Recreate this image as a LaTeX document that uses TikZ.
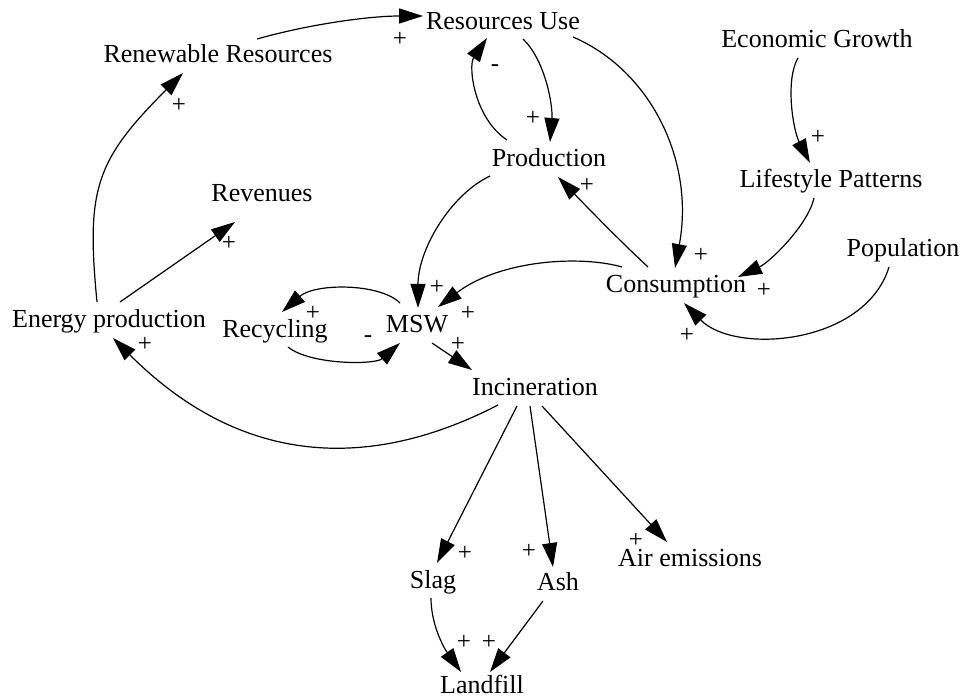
\documentclass[tikz,border=0pt]{standalone}
\usepackage{fontspec}
\setmainfont{Liberation Serif}
\usetikzlibrary{arrows.meta}
\begin{document}
\begin{tikzpicture}[x=1pt,y=-1pt,
  var/.style={anchor=base, inner sep=0pt, font=\fontsize{26}{31}\selectfont},
  sgn/.style={inner sep=0pt, font=\fontsize{25}{30}\selectfont},
  link/.style={line width=1.2pt, -{Triangle[length=24pt,width=15pt]}}]
\useasboundingbox (0,0) rectangle (960,700);

% variables (placed by baseline)
\node[var] (use)    at (503,30)  {Resources Use};
\node[var] (ren)    at (218,63)  {Renewable Resources};
\node[var] (eco)    at (817,48)  {Economic Growth};
\node[var] (prod)   at (549,167) {Production};
\node[var] (life)   at (831,188) {Lifestyle Patterns};
\node[var] (rev)    at (262,202) {Revenues};
\node[var] (pop)    at (903,257) {Population};
\node[var] (cons)   at (676,293) {Consumption};
\node[var] (energy) at (109,327) {Energy production};
\node[var] (recyc)  at (275,337) {Recycling};
\node[var] (msw)    at (417,332) {MSW};
\node[var] (inc)    at (535,395) {Incineration};
\node[var] (slag)   at (433,588) {Slag};
\node[var] (ash)    at (558,590) {Ash};
\node[var] (air)    at (690,566) {Air emissions};
\node[var] (land)   at (482,693) {Landfill};

% causal links
\draw[link] ([shift={(39,-24)}]ren.base) .. controls (310,24) and (370,16) .. ([shift={(-80,-14)}]use.base);
\draw[link] ([shift={(20,9)}]use.base) .. controls (545,60) and (553,105) .. ([shift={(1,-25)}]prod.base);
\draw[link] ([shift={(-42,-27)}]prod.base) .. controls (474,118) and (468,66) .. ([shift={(-16,8)}]use.base);
\draw[link] ([shift={(70,7)}]use.base) .. controls (650,70) and (695,160) .. ([shift={(-1,-25)}]cons.base);
\draw[link] ([shift={(-19,10)}]eco.base) .. controls (785,80) and (793,130) .. ([shift={(-21,-25)}]life.base);
\draw[link] ([shift={(-17,10)}]life.base) .. controls (808,225) and (770,262) .. ([shift={(62,-16)}]cons.base);
\draw[link] ([shift={(-14,10)}]pop.base) .. controls (865,345) and (735,355) .. ([shift={(8,10)}]cons.base);
\draw[link] ([shift={(-28,-26)}]cons.base) .. controls (620,241) and (586,206) .. ([shift={(9,10)}]prod.base);
\draw[link] ([shift={(-54,-26)}]cons.base) .. controls (580,255) and (500,260) .. ([shift={(21,-25)}]msw.base);
\draw[link] ([shift={(-59,9)}]prod.base) .. controls (450,195) and (418,250) .. ([shift={(1,-24)}]msw.base);
\draw[link] ([shift={(-17,-29)}]msw.base) .. controls (380,283) and (315,283) .. ([shift={(7,-25)}]recyc.base);
\draw[link] ([shift={(13,10)}]recyc.base) .. controls (310,365) and (375,365) .. ([shift={(-17,11)}]msw.base);
\draw[link] ([shift={(15,11)}]msw.base) -- ([shift={(-63,-25)}]inc.base);
\draw[link] ([shift={(-37,10)}]inc.base) .. controls (411,450) and (267,492) .. ([shift={(4,11)}]energy.base);
\draw[link] ([shift={(11,-25)}]energy.base) -- ([shift={(-27,20)}]rev.base);
\draw[link] ([shift={(-12,-25)}]energy.base) .. controls (86,189) and (95.5,160.5) .. ([shift={(-35,10)}]ren.base);
\draw[link] ([shift={(-18,11)}]inc.base) -- ([shift={(4,-25)}]slag.base);
\draw[link] ([shift={(-5,11)}]inc.base) -- ([shift={(-5,-23)}]ash.base);
\draw[link] ([shift={(7,11)}]inc.base) -- ([shift={(-23,-24)}]air.base);
\draw[link] ([shift={(-2,10)}]slag.base) .. controls (431,625) and (444,648) .. ([shift={(-21,-21)}]land.base);
\draw[link] ([shift={(-15,11)}]ash.base) -- ([shift={(8,-21)}]land.base);

% link polarities
\node[sgn] (s1)  at (400,39)  {+};
\node[sgn] (s2)  at (533,118) {+};
\node[sgn] (s3)  at (495,68)  {-};
\node[sgn] (s4)  at (701,255) {+};
\node[sgn] (s5)  at (818,137) {+};
\node[sgn] (s6)  at (764,290) {+};
\node[sgn] (s7)  at (687,335) {+};
\node[sgn] (s8)  at (587,185) {+};
\node[sgn] (s9)  at (468,313) {+};
\node[sgn] (s10) at (437,287) {+};
\node[sgn] (s11) at (313,313) {+};
\node[sgn] (s12) at (368,339) {-};
\node[sgn] (s13) at (458,344) {+};
\node[sgn] (s14) at (145,344) {+};
\node[sgn] (s15) at (229,243) {+};
\node[sgn] (s16) at (179,105) {+};
\node[sgn] (s17) at (465,553) {+};
\node[sgn] (s18) at (529,551) {+};
\node[sgn] (s19) at (636,540) {+};
\node[sgn] (s20) at (464,642) {+};
\node[sgn] (s21) at (489,642) {+};
\end{tikzpicture}
\end{document}
